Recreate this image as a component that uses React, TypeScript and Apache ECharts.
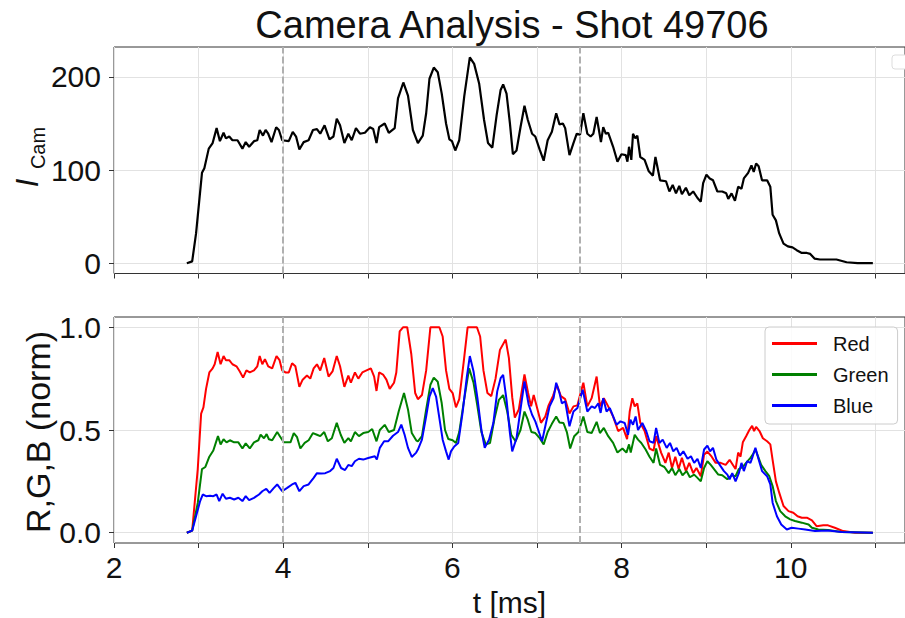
import React, { useEffect, useRef } from 'react';
import * as echarts from 'echarts';

const FONT = '"Liberation Sans", Arial, Helvetica, sans-serif';

const titleText = 'Camera Analysis - Shot 49706';
const xName = 't [ms]';
const rgbName = 'R,G,B (norm)';
const legendNames = ['Red', 'Green', 'Blue'];
const seriesColors = ['#ff0000', '#008000', '#0000ff'];
const dashedT = [4, 7.5];
const xLabelTicks = [2, 4, 6, 8, 10];
const xMinorTicks = [2, 3, 4, 5, 6, 7, 8, 9, 10, 11];
const camTicks = [0, 100, 200];
const rgbTicks = [0, 0.5, 1.0];

const iCam: [number, number][] = [[2.861,0],[2.924,2],[2.97,32],[3.04,97],[3.068,102],[3.12,123],[3.166,129],[3.213,145],[3.252,131],[3.295,140],[3.323,134],[3.362,136],[3.40,132],[3.46,132],[3.518,123],[3.557,130],[3.597,125],[3.655,131],[3.694,132],[3.722,143],[3.761,137],[3.792,143],[3.823,139],[3.862,130],[3.917,146],[3.949,143],[3.988,132],[4.066,131],[4.113,141],[4.152,136],[4.191,122],[4.242,130],[4.30,132],[4.352,143],[4.399,144],[4.438,139],[4.489,148],[4.547,133],[4.594,136],[4.633,155],[4.672,148],[4.723,129],[4.77,139],[4.81,132],[4.86,145],[4.907,139],[4.966,140],[5.025,146],[5.064,144],[5.103,129],[5.134,146],[5.20,150],[5.248,140],[5.318,145],[5.357,177],[5.42,194],[5.475,180],[5.533,143],[5.592,129],[5.65,137],[5.69,161],[5.729,198],[5.78,210],[5.827,205],[5.874,182],[5.925,150],[5.964,133],[5.995,131],[6.034,121],[6.081,132],[6.14,179],[6.206,221],[6.257,214],[6.316,193],[6.374,154],[6.421,129],[6.472,124],[6.523,159],[6.57,186],[6.60,192],[6.64,182],[6.68,150],[6.715,117],[6.758,121],[6.805,146],[6.852,169],[6.891,154],[6.942,139],[6.98,136],[7.032,122],[7.079,110],[7.126,132],[7.176,141],[7.227,161],[7.266,149],[7.306,150],[7.333,145],[7.384,116],[7.431,129],[7.47,139],[7.509,138],[7.548,161],[7.595,139],[7.634,136],[7.666,139],[7.705,157],[7.732,143],[7.756,130],[7.783,146],[7.814,139],[7.842,140],[7.90,125],[7.951,109],[7.998,117],[8.049,116],[8.069,109],[8.088,125],[8.115,111],[8.135,139],[8.162,134],[8.186,137],[8.221,114],[8.272,111],[8.319,99],[8.37,94],[8.40,114],[8.455,89],[8.525,88],[8.565,77],[8.604,84],[8.643,75],[8.682,83],[8.713,74],[8.76,81],[8.80,73],[8.846,77],[8.897,70],[8.936,66],[8.964,86],[9.003,95],[9.042,91],[9.081,89],[9.132,77],[9.19,77],[9.237,75],[9.261,69],[9.30,75],[9.34,67],[9.378,82],[9.417,80],[9.445,91],[9.496,97],[9.535,105],[9.562,98],[9.59,107],[9.62,104],[9.66,89],[9.72,89],[9.758,82],[9.785,52],[9.824,46],[9.863,32],[9.914,21],[9.965,18],[10.02,17],[10.07,14],[10.13,11],[10.19,11],[10.23,10],[10.28,5],[10.345,4],[10.44,4],[10.54,4],[10.66,1],[10.79,0],[10.97,0]];

const red: [number, number][] = [[2.861,0],[2.924,0.01],[2.99,0.31],[3.03,0.58],[3.057,0.61],[3.088,0.70],[3.127,0.78],[3.166,0.80],[3.19,0.82],[3.225,0.88],[3.26,0.82],[3.295,0.86],[3.323,0.84],[3.362,0.84],[3.40,0.82],[3.448,0.81],[3.487,0.785],[3.526,0.755],[3.565,0.79],[3.605,0.78],[3.655,0.79],[3.694,0.81],[3.722,0.86],[3.753,0.82],[3.784,0.845],[3.823,0.81],[3.87,0.80],[3.921,0.86],[3.957,0.84],[3.988,0.79],[4.027,0.78],[4.066,0.78],[4.105,0.825],[4.144,0.81],[4.191,0.71],[4.23,0.745],[4.281,0.765],[4.32,0.75],[4.36,0.80],[4.399,0.82],[4.438,0.79],[4.485,0.85],[4.536,0.76],[4.583,0.785],[4.633,0.86],[4.672,0.81],[4.723,0.71],[4.77,0.765],[4.80,0.73],[4.848,0.78],[4.888,0.75],[4.935,0.78],[4.985,0.79],[5.036,0.80],[5.075,0.76],[5.103,0.69],[5.134,0.78],[5.18,0.77],[5.22,0.745],[5.259,0.70],[5.31,0.73],[5.337,0.78],[5.377,0.98],[5.416,1.0],[5.466,1.0],[5.514,0.87],[5.56,0.68],[5.592,0.65],[5.64,0.67],[5.69,0.79],[5.74,1.0],[5.788,1.0],[5.846,1.0],[5.885,0.955],[5.925,0.79],[5.964,0.70],[6.003,0.68],[6.042,0.61],[6.081,0.65],[6.132,0.825],[6.18,1.0],[6.226,1.0],[6.29,1.0],[6.328,0.955],[6.367,0.79],[6.414,0.68],[6.46,0.665],[6.51,0.75],[6.562,0.89],[6.63,0.94],[6.668,0.85],[6.707,0.66],[6.738,0.56],[6.785,0.60],[6.852,0.77],[6.895,0.68],[6.93,0.615],[6.961,0.67],[7.0,0.61],[7.047,0.535],[7.098,0.565],[7.137,0.62],[7.188,0.665],[7.235,0.72],[7.282,0.665],[7.333,0.65],[7.384,0.58],[7.431,0.615],[7.478,0.62],[7.509,0.67],[7.548,0.73],[7.595,0.615],[7.646,0.655],[7.705,0.76],[7.744,0.615],[7.79,0.655],[7.842,0.615],[7.90,0.565],[7.959,0.495],[8.018,0.51],[8.065,0.455],[8.096,0.59],[8.127,0.655],[8.155,0.615],[8.186,0.63],[8.221,0.535],[8.272,0.495],[8.33,0.41],[8.378,0.40],[8.408,0.47],[8.467,0.39],[8.518,0.34],[8.557,0.39],[8.596,0.315],[8.635,0.37],[8.674,0.31],[8.713,0.365],[8.76,0.30],[8.80,0.34],[8.846,0.29],[8.885,0.315],[8.936,0.275],[8.975,0.38],[9.014,0.395],[9.065,0.37],[9.112,0.34],[9.17,0.34],[9.23,0.33],[9.277,0.355],[9.316,0.33],[9.347,0.31],[9.378,0.39],[9.406,0.37],[9.433,0.44],[9.472,0.47],[9.51,0.50],[9.543,0.52],[9.566,0.495],[9.59,0.515],[9.63,0.495],[9.67,0.46],[9.72,0.445],[9.758,0.43],[9.785,0.355],[9.824,0.25],[9.863,0.195],[9.914,0.13],[9.973,0.105],[10.03,0.097],[10.08,0.08],[10.13,0.073],[10.19,0.073],[10.25,0.06],[10.305,0.032],[10.384,0.036],[10.44,0.036],[10.52,0.024],[10.62,0.008],[10.76,0],[10.97,0]];

const green: [number, number][] = [[2.861,0],[2.924,0.01],[2.99,0.145],[3.04,0.31],[3.08,0.32],[3.127,0.37],[3.174,0.40],[3.205,0.44],[3.229,0.47],[3.26,0.43],[3.295,0.455],[3.33,0.44],[3.37,0.45],[3.42,0.44],[3.47,0.44],[3.518,0.41],[3.557,0.435],[3.605,0.41],[3.655,0.44],[3.706,0.45],[3.733,0.477],[3.773,0.46],[3.804,0.48],[3.831,0.455],[3.87,0.45],[3.929,0.49],[3.968,0.465],[4.007,0.44],[4.086,0.44],[4.125,0.485],[4.164,0.465],[4.203,0.41],[4.254,0.437],[4.301,0.45],[4.352,0.485],[4.399,0.477],[4.438,0.47],[4.485,0.49],[4.528,0.445],[4.575,0.46],[4.633,0.535],[4.68,0.477],[4.723,0.437],[4.77,0.46],[4.80,0.445],[4.848,0.49],[4.895,0.47],[4.946,0.485],[5.005,0.49],[5.052,0.505],[5.103,0.445],[5.142,0.50],[5.20,0.525],[5.248,0.49],[5.31,0.50],[5.365,0.59],[5.428,0.68],[5.475,0.60],[5.52,0.485],[5.572,0.45],[5.592,0.445],[5.64,0.47],[5.69,0.60],[5.74,0.72],[5.78,0.755],[5.827,0.735],[5.874,0.63],[5.913,0.50],[5.952,0.456],[6.003,0.45],[6.042,0.437],[6.081,0.49],[6.132,0.63],[6.198,0.80],[6.25,0.73],[6.296,0.615],[6.343,0.49],[6.394,0.43],[6.445,0.437],[6.50,0.56],[6.55,0.647],[6.60,0.67],[6.648,0.59],[6.695,0.477],[6.746,0.445],[6.805,0.50],[6.852,0.59],[6.891,0.55],[6.934,0.49],[6.98,0.485],[7.032,0.46],[7.079,0.43],[7.126,0.49],[7.176,0.53],[7.227,0.566],[7.266,0.537],[7.313,0.534],[7.353,0.49],[7.392,0.41],[7.44,0.47],[7.49,0.49],[7.548,0.566],[7.595,0.49],[7.646,0.485],[7.705,0.54],[7.744,0.485],[7.79,0.51],[7.842,0.47],[7.90,0.437],[7.951,0.39],[8.01,0.41],[8.057,0.39],[8.088,0.43],[8.108,0.39],[8.155,0.477],[8.194,0.453],[8.233,0.437],[8.284,0.405],[8.33,0.37],[8.378,0.34],[8.408,0.41],[8.455,0.33],[8.506,0.32],[8.557,0.29],[8.596,0.315],[8.635,0.28],[8.682,0.31],[8.72,0.28],[8.768,0.30],[8.807,0.27],[8.858,0.283],[8.897,0.267],[8.936,0.25],[8.975,0.315],[9.014,0.348],[9.054,0.33],[9.093,0.31],[9.143,0.283],[9.19,0.28],[9.25,0.26],[9.30,0.28],[9.347,0.275],[9.386,0.31],[9.433,0.32],[9.472,0.34],[9.523,0.364],[9.55,0.38],[9.582,0.405],[9.613,0.372],[9.65,0.33],[9.70,0.30],[9.746,0.275],[9.785,0.227],[9.824,0.154],[9.875,0.105],[9.934,0.08],[9.993,0.065],[10.05,0.057],[10.13,0.049],[10.21,0.04],[10.25,0.024],[10.325,0.016],[10.44,0.013],[10.6,0.003],[10.97,0]];

const blue: [number, number][] = [[2.861,0],[2.924,0.01],[2.97,0.08],[3.018,0.154],[3.049,0.186],[3.088,0.178],[3.135,0.18],[3.174,0.178],[3.213,0.186],[3.244,0.154],[3.284,0.19],[3.323,0.165],[3.37,0.17],[3.42,0.162],[3.47,0.17],[3.518,0.154],[3.557,0.178],[3.597,0.159],[3.655,0.17],[3.714,0.186],[3.753,0.202],[3.80,0.214],[3.839,0.194],[3.89,0.218],[3.929,0.235],[3.988,0.202],[4.047,0.218],[4.105,0.235],[4.144,0.243],[4.191,0.202],[4.242,0.227],[4.30,0.235],[4.36,0.267],[4.399,0.29],[4.45,0.288],[4.497,0.29],[4.555,0.30],[4.594,0.315],[4.633,0.36],[4.684,0.315],[4.731,0.305],[4.77,0.33],[4.81,0.324],[4.848,0.348],[4.895,0.36],[4.946,0.356],[5.005,0.364],[5.083,0.372],[5.107,0.356],[5.142,0.413],[5.193,0.445],[5.24,0.445],[5.298,0.472],[5.357,0.49],[5.396,0.526],[5.435,0.477],[5.475,0.413],[5.52,0.369],[5.572,0.39],[5.592,0.405],[5.64,0.453],[5.69,0.566],[5.729,0.663],[5.768,0.704],[5.807,0.663],[5.846,0.558],[5.885,0.453],[5.925,0.396],[5.956,0.356],[5.983,0.396],[6.022,0.42],[6.069,0.437],[6.12,0.583],[6.171,0.76],[6.206,0.86],[6.25,0.785],[6.296,0.655],[6.343,0.50],[6.382,0.413],[6.433,0.453],[6.484,0.534],[6.53,0.688],[6.57,0.752],[6.60,0.768],[6.64,0.647],[6.68,0.485],[6.707,0.396],[6.758,0.46],[6.805,0.60],[6.852,0.736],[6.902,0.623],[6.942,0.574],[6.98,0.542],[7.02,0.494],[7.06,0.445],[7.098,0.518],[7.149,0.615],[7.196,0.655],[7.227,0.73],[7.266,0.68],[7.294,0.63],[7.333,0.64],[7.384,0.518],[7.431,0.59],[7.478,0.607],[7.54,0.696],[7.595,0.59],[7.646,0.615],[7.685,0.607],[7.725,0.63],[7.752,0.583],[7.783,0.655],[7.822,0.59],[7.861,0.607],[7.90,0.566],[7.94,0.526],[7.986,0.542],[8.037,0.534],[8.076,0.477],[8.104,0.55],[8.135,0.526],[8.166,0.566],[8.194,0.50],[8.245,0.534],[8.292,0.494],[8.33,0.445],[8.378,0.437],[8.408,0.51],[8.447,0.437],[8.486,0.453],[8.533,0.413],[8.572,0.437],[8.611,0.396],[8.65,0.413],[8.69,0.375],[8.73,0.396],[8.78,0.36],[8.82,0.372],[8.858,0.34],[8.897,0.36],[8.936,0.315],[8.975,0.405],[9.014,0.424],[9.046,0.396],[9.08,0.413],[9.12,0.356],[9.17,0.324],[9.21,0.30],[9.25,0.283],[9.277,0.26],[9.308,0.29],[9.347,0.25],[9.386,0.29],[9.417,0.34],[9.445,0.30],[9.484,0.348],[9.523,0.34],[9.55,0.372],[9.582,0.413],[9.62,0.356],[9.66,0.30],[9.72,0.275],[9.758,0.235],[9.785,0.146],[9.836,0.08],[9.887,0.04],[9.953,0.016],[10.01,0.024],[10.09,0.02],[10.17,0.016],[10.286,0.008],[10.44,0.011],[10.6,0.003],[10.97,0]];

const rgbData = [red, green, blue];

const GRID_LEFT = 114;
const GRID_W = 796;
const GRID_H = 226.5;
const TOP1 = 47;
const TOP2 = 317;
const X_MIN = 2;
const X_MAX = 11.35;
const TICK_FONT = 30;

function xAxisFor(gridIndex: number, showLabels: boolean) {
  return {
    type: 'value',
    gridIndex,
    min: X_MIN,
    max: X_MAX,
    interval: 2,
    axisLine: { show: false, onZero: false },
    axisTick: {
      show: true,
      length: 5,
      customValues: xMinorTicks,
      lineStyle: { color: '#333', width: 1 },
    },
    axisLabel: {
      show: showLabels,
      customValues: xLabelTicks,
      formatter: (v: number) => (xLabelTicks.includes(v) ? String(v) : ''),
      fontSize: TICK_FONT,
      fontFamily: FONT,
      color: '#111',
      margin: 9,
    },
    splitLine: { show: true, lineStyle: { color: '#e2e2e2', width: 1 } },
    name: showLabels ? xName : '',
    nameLocation: 'middle',
    nameGap: 44,
    nameTextStyle: { fontSize: TICK_FONT, fontFamily: FONT, color: '#111' },
  };
}

function yAxisFor(gridIndex: number, min: number, max: number, ticks: number[], fmt: (v: number) => string) {
  return {
    type: 'value',
    gridIndex,
    min,
    max,
    splitNumber: 2,
    axisLine: { show: false, onZero: false },
    axisTick: { show: true, length: 5, customValues: ticks, lineStyle: { color: '#333', width: 1 } },
    axisLabel: {
      customValues: ticks,
      formatter: (v: number) => (ticks.some((t) => Math.abs(t - v) < 1e-9) ? fmt(v) : ''),
      fontSize: TICK_FONT,
      fontFamily: FONT,
      color: '#111',
      margin: 13,
    },
    splitLine: { show: true, lineStyle: { color: '#e2e2e2', width: 1 } },
  };
}

const dashLine = {
  silent: true,
  symbol: ['none', 'none'],
  label: { show: false },
  lineStyle: { type: [7, 3], color: '#b0b0b0', width: 2 },
  data: dashedT.map((t) => ({ xAxis: t })),
};

export default function App() {
  const ref = useRef<HTMLDivElement>(null);
  useEffect(() => {
    const chart = echarts.init(ref.current!, null, { renderer: 'svg' });
    const option: any = {
      animation: false,
      backgroundColor: '#ffffff',
      textStyle: { fontFamily: FONT },
      grid: [
        { left: GRID_LEFT, top: TOP1, width: GRID_W, height: GRID_H, show: true, borderColor: '#333', borderWidth: 1, backgroundColor: 'transparent' },
        { left: GRID_LEFT, top: TOP2, width: GRID_W, height: GRID_H, show: true, borderColor: '#333', borderWidth: 1, backgroundColor: 'transparent' },
      ],
      xAxis: [xAxisFor(0, false), xAxisFor(1, true)],
      yAxis: [
        yAxisFor(0, -11.05, 232.1, camTicks, (v) => String(v)),
        yAxisFor(1, -0.05, 1.05, rgbTicks, (v) => v.toFixed(1)),
      ],
      legend: {
        data: legendNames,
        orient: 'vertical',
        left: 765,
        top: 327,
        icon: 'rect',
        itemWidth: 45,
        itemHeight: 3,
        itemGap: 8,
        padding: [5, 9, 7, 7],
        borderColor: '#cccccc',
        borderWidth: 1,
        borderRadius: 4,
        backgroundColor: 'rgba(255,255,255,0.85)',
        textStyle: { fontSize: 20, fontFamily: FONT, color: '#111', padding: [0, 0, 0, 11], lineHeight: 23 },
      },
      graphic: [
        {
          type: 'text', x: 512, y: 25,
          style: { text: titleText, font: `38px ${FONT}`, fill: '#111', textAlign: 'center', textVerticalAlign: 'middle' },
        },
        {
          type: 'text', x: 27, y: 183, rotation: Math.PI / 2,
          style: { text: 'I', font: `italic 31px ${FONT}`, fill: '#111', textAlign: 'center', textVerticalAlign: 'middle' },
        },
        {
          type: 'text', x: 38, y: 148, rotation: Math.PI / 2,
          style: { text: 'Cam', font: `20px ${FONT}`, fill: '#111', textAlign: 'center', textVerticalAlign: 'middle' },
        },
        {
          type: 'text', x: 38, y: 432, rotation: Math.PI / 2,
          style: { text: rgbName, font: `34px ${FONT}`, fill: '#111', textAlign: 'center', textVerticalAlign: 'middle' },
        },
        {
          type: 'rect', shape: { x: 892, y: 55, width: 24, height: 14, r: 3 },
          style: { fill: '#ffffff', stroke: '#dddddd', lineWidth: 1 },
        },
      ],
      series: [
        {
          type: 'line', name: 'I_Cam', xAxisIndex: 0, yAxisIndex: 0, data: iCam,
          showSymbol: false, lineStyle: { color: '#000', width: 2.2 }, itemStyle: { color: '#000' },
          markLine: dashLine,
        },
        ...rgbData.map((d, i) => ({
          type: 'line', name: legendNames[i], xAxisIndex: 1, yAxisIndex: 1, data: d,
          showSymbol: false, lineStyle: { color: seriesColors[i], width: 2 }, itemStyle: { color: seriesColors[i] },
          markLine: i === 0 ? dashLine : undefined,
        })),
      ],
    };
    chart.setOption(option);
    return () => chart.dispose();
  }, []);
  return <div ref={ref} style={{ position: 'fixed', left: 0, top: 0, width: 905, height: 618, background: '#fff' }} />;
}
